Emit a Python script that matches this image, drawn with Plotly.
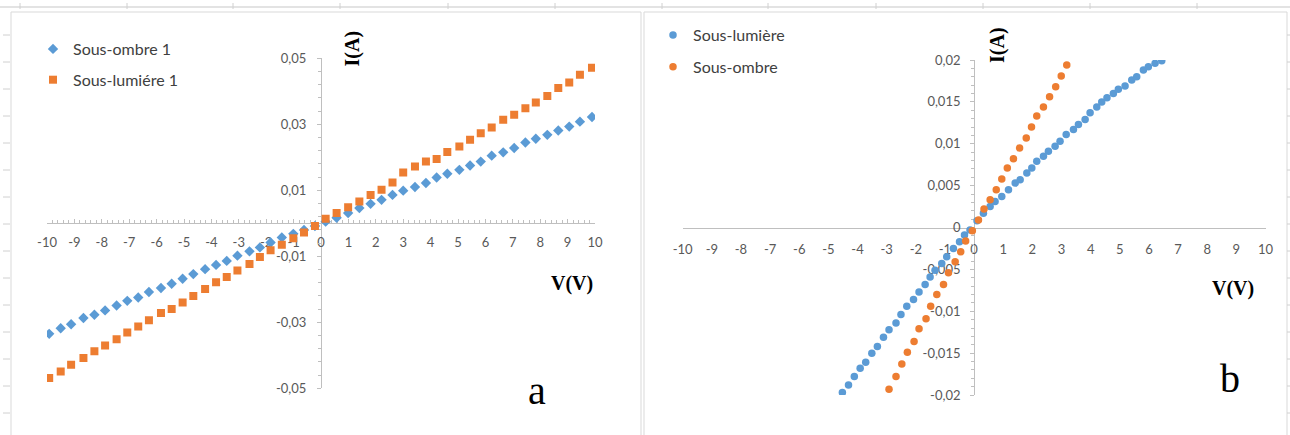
import plotly.graph_objects as go

W, H = 1290, 435

# ---------------- data: panel a ----------------
v_a = [-9.92, -9.50, -9.12, -8.67, -8.27, -7.88, -7.46, -7.07, -6.67, -6.28,
       -5.84, -5.45, -5.05, -4.66, -4.23, -3.83, -3.44, -3.05, -2.61, -2.23,
       -1.84, -1.43, -1.01, -0.62, -0.22, 0.17, 0.57, 0.99, 1.40, 1.81,
       2.21, 2.61, 3.00, 3.43, 3.83, 4.22, 4.61, 5.05, 5.44, 5.83,
       6.23, 6.65, 7.05, 7.46, 7.84, 8.26, 8.66, 9.06, 9.45, 9.89]
i_ombre1 = [-0.0335, -0.0318, -0.0306, -0.0287, -0.0277, -0.0264, -0.0249, -0.0235, -0.0225, -0.0208,
            -0.0196, -0.0183, -0.0168, -0.0154, -0.0139, -0.0126, -0.0114, -0.0098, -0.0085, -0.0073,
            -0.0058, -0.0043, -0.0032, -0.0020, -0.0008, 0.0005, 0.0017, 0.0031, 0.0046, 0.0059,
            0.0071, 0.0086, 0.0099, 0.0110, 0.0122, 0.0139, 0.0150, 0.0162, 0.0175, 0.0187,
            0.0205, 0.0215, 0.0228, 0.0245, 0.0256, 0.0268, 0.0281, 0.0293, 0.0308, 0.0322]
i_lumiere1 = [-0.0469, -0.0449, -0.0429, -0.0408, -0.0388, -0.0370, -0.0351, -0.0331, -0.0313, -0.0294,
              -0.0272, -0.0260, -0.0240, -0.0220, -0.0199, -0.0179, -0.0163, -0.0143, -0.0123, -0.0102,
              -0.0082, -0.0065, -0.0045, -0.0028, -0.0008, 0.0014, 0.0031, 0.0049, 0.0066, 0.0086,
              0.0102, 0.0124, 0.0154, 0.0172, 0.0187, 0.0195, 0.0216, 0.0233, 0.0253, 0.0273,
              0.0290, 0.0314, 0.0329, 0.0349, 0.0366, 0.0386, 0.0410, 0.0427, 0.0450, 0.0471]

# ---------------- data: panel b ----------------
v_lumiere = [-4.52, -4.31, -4.11, -3.91, -3.72, -3.51, -3.32, -3.11, -2.92, -2.68,
             -2.51, -2.31, -2.08, -1.89, -1.68, -1.51, -1.34, -1.11, -0.94, -0.71,
             -0.50, -0.33, -0.14, 0.10, 0.32, 0.55, 0.72, 0.95, 1.18, 1.41,
             1.58, 1.81, 1.98, 2.15, 2.38, 2.55, 2.78, 2.95, 3.16, 3.41,
             3.58, 3.81, 3.98, 4.21, 4.38, 4.56, 4.78, 4.95, 5.18, 5.41,
             5.58, 5.81, 5.98, 6.21, 6.44]
i_lumiere = [-0.0197, -0.0188, -0.0178, -0.0168, -0.0161, -0.0150, -0.0142, -0.0131, -0.0122, -0.0114,
             -0.0104, -0.0094, -0.0086, -0.0077, -0.0068, -0.0059, -0.0051, -0.0043, -0.0035, -0.0025,
             -0.0017, -0.0009, -0.0003, 0.0008, 0.0017, 0.0025, 0.0031, 0.0037, 0.0045, 0.0053,
             0.0057, 0.0065, 0.0071, 0.0079, 0.0085, 0.0091, 0.0097, 0.0103, 0.0111, 0.0117,
             0.0123, 0.0129, 0.0137, 0.0144, 0.0150, 0.0155, 0.0160, 0.0165, 0.0169, 0.0176,
             0.0180, 0.0188, 0.0192, 0.0196, 0.0199]
v_ombre = [-2.92, -2.68, -2.48, -2.29, -2.06, -1.89, -1.65, -1.49, -1.28, -1.05,
           -0.88, -0.65, -0.46, -0.29, -0.06, 0.15, 0.34, 0.55, 0.76, 0.95,
           1.14, 1.35, 1.56, 1.79, 1.97, 2.15, 2.38, 2.59, 2.80, 2.99, 3.18]
i_ombre = [-0.0193, -0.0178, -0.0163, -0.0149, -0.0136, -0.0121, -0.0109, -0.0094, -0.0080, -0.0068,
           -0.0054, -0.0041, -0.0029, -0.0016, -0.0004, 0.0009, 0.0022, 0.0033, 0.0045, 0.0058,
           0.0071, 0.0082, 0.0095, 0.0107, 0.0120, 0.0133, 0.0144, 0.0156, 0.0168, 0.0181, 0.0194]

# ---------------- tick labels ----------------
x_tickvals = [-10, -9, -8, -7, -6, -5, -4, -3, -2, -1, 0, 1, 2, 3, 4, 5, 6, 7, 8, 9, 10]
x_ticktext = ["-10", "-9", "-8", "-7", "-6", "-5", "-4", "-3", "-2", "-1", "0",
              "1", "2", "3", "4", "5", "6", "7", "8", "9", "10"]
ya_tickvals = [-0.05, -0.03, -0.01, 0.01, 0.03, 0.05]
ya_ticktext = ["-0,05", "-0,03", "-0,01", "0,01", "0,03", "0,05"]
yb_tickvals = [-0.02, -0.015, -0.01, -0.005, 0, 0.005, 0.01, 0.015, 0.02]
yb_ticktext = ["-0,02", "-0,015", "-0,01", "-0,005", "0", "0,005", "0,01", "0,015", "0,02"]

BLUE = "#5B9BD5"
ORANGE = "#ED7D31"
AXIS = "#BFBFBF"
TICKFONT = dict(family="Lato", size=13, color="#595959")
LEGFONT = dict(family="Lato", size=16, color="#404040")
FRAME = "#D9D9D9"


def px(x):
    return x / W


def py(y):
    return 1 - y / H


# domains (pixel placement of the plot areas)
xa_dom = [px(47), px(595)]
ya_dom = [py(388.3), py(58.3)]
xb_dom = [px(682.7), px(1265.5)]
yb_dom = [py(395), py(60)]

fig = go.Figure()

fig.add_trace(go.Scatter(x=v_a, y=i_ombre1, mode="markers", name="Sous-ombre 1",
                         marker=dict(symbol="diamond", size=8, color=BLUE, line=dict(width=0)),
                         xaxis="x", yaxis="y", legend="legend", legendgroup="a1"))
fig.add_trace(go.Scatter(x=v_a, y=i_lumiere1, mode="markers", name="Sous-lumiére 1",
                         marker=dict(symbol="square", size=8, color=ORANGE, line=dict(width=0)),
                         xaxis="x", yaxis="y", legend="legend", legendgroup="a2"))
fig.add_trace(go.Scatter(x=v_lumiere, y=i_lumiere, mode="markers", name="Sous-lumière",
                         marker=dict(symbol="circle", size=7.5, color=BLUE, line=dict(width=0)),
                         xaxis="x2", yaxis="y2", legend="legend2", legendgroup="b1"))
fig.add_trace(go.Scatter(x=v_ombre, y=i_ombre, mode="markers", name="Sous-ombre",
                         marker=dict(symbol="circle", size=7.5, color=ORANGE, line=dict(width=0)),
                         xaxis="x2", yaxis="y2", legend="legend2", legendgroup="b2"))

common = dict(showgrid=False, zeroline=False, showline=True, linecolor=AXIS, linewidth=1,
              tickfont=TICKFONT, tickcolor=AXIS, anchor="free", layer="below traces",
              fixedrange=True, automargin=False)

fig.update_layout(
    width=W, height=H, autosize=False,
    margin=dict(l=0, r=0, t=0, b=0, pad=0, autoexpand=False),
    paper_bgcolor="white", plot_bgcolor="rgba(0,0,0,0)",
    xaxis=dict(domain=xa_dom, range=[-10, 10], position=(ya_dom[0] + ya_dom[1]) / 2,
               tickmode="array", tickvals=x_tickvals, ticktext=x_ticktext,
               ticks="inside", ticklen=4, ticklabelstandoff=7,
               minor=dict(tick0=-10, dtick=0.2, ticks="inside", ticklen=3, tickcolor=AXIS),
               **common),
    yaxis=dict(domain=ya_dom, range=[-0.05, 0.05], position=(xa_dom[0] + xa_dom[1]) / 2,
               tickmode="array", tickvals=ya_tickvals, ticktext=ya_ticktext,
               ticks="outside", ticklen=4, ticklabelstandoff=8,
               minor=dict(tick0=-0.05, dtick=0.004, ticks="outside", ticklen=3, tickcolor=AXIS),
               **common),
    xaxis2=dict(domain=xb_dom, range=[-10, 10], position=(yb_dom[0] + yb_dom[1]) / 2,
                tickmode="array", tickvals=x_tickvals, ticktext=x_ticktext,
                ticks="", ticklabelstandoff=10, **common),
    yaxis2=dict(domain=yb_dom, range=[-0.02, 0.02], position=(xb_dom[0] + xb_dom[1]) / 2,
                tickmode="array", tickvals=yb_tickvals, ticktext=yb_ticktext,
                ticks="outside", ticklen=4, ticklabelstandoff=7,
                minor=dict(tick0=-0.02, dtick=0.001, ticks="outside", ticklen=3, tickcolor=AXIS),
                **common),
    legend=dict(x=px(33), y=py(32), xanchor="left", yanchor="top", font=LEGFONT,
                bgcolor="rgba(0,0,0,0)", traceorder="grouped", tracegroupgap=7,
                itemwidth=30),
    legend2=dict(x=px(653), y=py(18), xanchor="left", yanchor="top", font=LEGFONT,
                 bgcolor="rgba(0,0,0,0)", traceorder="grouped", tracegroupgap=8,
                 itemwidth=30),
    showlegend=True,
)

ann_font = dict(family="Liberation Serif", size=20, color="black")
annotations = [
    dict(text="<b>I(A)</b>", x=px(352), y=py(48.5), textangle=-90, font=ann_font),
    dict(text="<b>I(A)</b>", x=px(998), y=py(45), textangle=-90, font=ann_font),
    dict(text="<b>V(V)</b>", x=px(572), y=py(283), font=ann_font),
    dict(text="<b>V(V)</b>", x=px(1233), y=py(288), font=ann_font),
    dict(text="a", x=px(537), y=py(390), font=dict(family="Liberation Serif", size=40, color="black")),
    dict(text="b", x=px(1230), y=py(378), font=dict(family="Liberation Serif", size=40, color="black")),
]
for a in annotations:
    a.update(xref="paper", yref="paper", showarrow=False, xanchor="center", yanchor="middle")
fig.update_layout(annotations=annotations)

# spreadsheet-like frame decoration
shapes = [
    dict(type="line", x0=0, x1=1, y0=py(7), y1=py(7), line=dict(color="#E3E3E3", width=2)),
    dict(type="rect", x0=px(11), x1=px(641), y0=py(12), y1=py(436), line=dict(color=FRAME, width=1)),
    dict(type="rect", x0=px(644), x1=px(1287), y0=py(12), y1=py(436), line=dict(color=FRAME, width=1)),
]
col_ticks = [20, 127, 233, 340, 448, 555, 662, 768, 876, 983, 1090, 1197]
for cx in col_ticks:
    shapes.append(dict(type="line", x0=px(cx), x1=px(cx), y0=py(3), y1=py(9),
                       line=dict(color="#D0D0D0", width=1)))
row_ticks = [35, 62, 89, 116, 143, 170, 197, 224, 251, 278, 305, 332, 359, 386, 413]
for ry in row_ticks:
    shapes.append(dict(type="line", x0=px(3), x1=px(10), y0=py(ry), y1=py(ry),
                       line=dict(color="#D0D0D0", width=1)))
    shapes.append(dict(type="line", x0=px(1287), x1=px(1290), y0=py(ry), y1=py(ry),
                       line=dict(color="#D0D0D0", width=1)))
for s in shapes:
    s.update(xref="paper", yref="paper", layer="below")
fig.update_layout(shapes=shapes)

post_js = ("document.documentElement.style.margin='0';"
           "document.documentElement.style.padding='0';"
           "document.body.style.margin='0';"
           "document.body.style.padding='0';"
           "document.body.style.overflow='hidden';"
           "var d=document.getElementById('{plot_id}');"
           "d.style.position='absolute';d.style.left='0px';d.style.top='0px';"
           "d.style.margin='0';")

fig.write_html("out.html", config={"responsive": False, "displayModeBar": False},
               post_script=post_js)
